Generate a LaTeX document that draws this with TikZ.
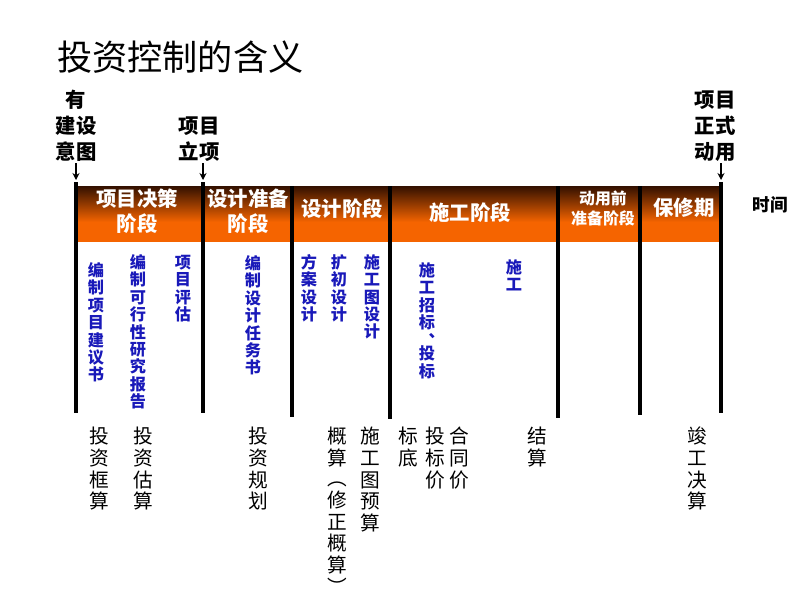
\documentclass[tikz,border=0pt]{standalone}
\usepackage{fontspec}
\setmainfont{Noto Sans CJK SC}
\usetikzlibrary{arrows.meta}
\definecolor{barDark}{RGB}{50,16,0}
\definecolor{barOrange}{RGB}{245,100,0}
\definecolor{taskBlue}{RGB}{25,25,185}
\begin{document}
\begin{tikzpicture}[x=0.025cm,y=-0.025cm,>=Stealth,
  event/.style={font=\bfseries\fontsize{14.5}{18.5}\selectfont,align=center,inner sep=1pt},
  phase/.style={text=white,font=\bfseries\fontsize{14.5}{17.8}\selectfont,align=center},
  task/.style={text=taskBlue,font=\bfseries\fontsize{11.5}{12.4}\selectfont,align=center,anchor=north,inner sep=0pt},
  cost/.style={font=\fontsize{14}{15.4}\selectfont,align=center,anchor=north,inner sep=0pt},
  divider/.style={line width=2.2pt},
  pointer/.style={->,line width=1pt,>={Stealth[length=5pt,width=5pt]}}]
\useasboundingbox (0,0) rectangle (800,600);
\node[font=\fontsize{25}{30}\selectfont,anchor=west,inner sep=0pt] (title) at (57,57) {投资控制的含义};

% events on the time line
\node[event] (intent) at (76,126) {有\\建设\\意图};
\node[event] (approval) at (199,139) {项目\\立项};
\node[event] (operation) at (715,126) {项目\\正式\\动用};
\coordinate (t_0) at (76,180);
\coordinate (t_1) at (203,180);
\coordinate (t_2) at (721,180);
\draw[pointer] (intent.south -| t_0) -- (t_0);
\draw[pointer] (approval.south -| t_1) -- (t_1);
\draw[pointer] (operation.south -| t_2) -- (t_2);

% phase bar
\shade[top color=barDark,bottom color=barOrange] (76,186) rectangle (721,222);
\fill[barOrange] (76,222) rectangle (721,242);
\foreach \x/\top/\bot in {76/182/413,203/182/413,292/186/417,390/186/419,558/186/418,640/186/415,721/182/413}
  \draw[divider] (\x,\top) -- (\x,\bot);

\node[phase] (decision) at (137,211) {项目决策\\阶段};
\node[phase] (prep) at (248,211) {设计准备\\阶段};
\node[phase] (design) at (342,209) {设计阶段};
\node[phase] (build) at (470,213) {施工阶段};
\node[phase,font=\bfseries\fontsize{11.3}{14.2}\selectfont] (handover) at (603,208) {动用前\\准备阶段};
\node[phase] (warranty) at (684,208) {保修期};
\node[font=\bfseries\fontsize{12.5}{15}\selectfont] (time) at (770,205) {时间};

% work in each phase
\node[task] (proposal) at (96,262) {编\\制\\项\\目\\建\\议\\书};
\node[task] (feasibility) at (138,254) {编\\制\\可\\行\\性\\研\\究\\报\\告};
\node[task] (appraisal) at (183,255) {项\\目\\评\\估};
\node[task] (brief) at (253,255) {编\\制\\设\\计\\任\\务\\书};
\node[task] (scheme) at (309,254) {方\\案\\设\\计};
\node[task] (prelim) at (339,254) {扩\\初\\设\\计};
\node[task] (drawings) at (372,254) {施\\工\\图\\设\\计};
\node[task] (tender) at (427,262) {施\\工\\招\\标\\[-6pt]\hspace*{1.2em}、\\[3.5pt]投\\标};
\node[task] (works) at (514,259) {施\\工};

% cost at each stage
\node[cost] (c_0) at (99,427) {投\\资\\框\\算};
\node[cost] (c_1) at (143,427) {投\\资\\估\\算};
\node[cost] (c_2) at (258,427) {投\\资\\规\\划};
\node[cost] (c_3) at (337,427) {概\\算};
\node[cost] (c_3r) at (337,482) {︵\\修\\正\\概\\算\\︶};
\node[cost] (c_4) at (370,427) {施\\工\\图\\预\\算};
\node[cost] (c_5) at (408,427) {标\\底};
\node[cost] (c_6) at (435,427) {投\\标\\价};
\node[cost] (c_7) at (459,427) {合\\同\\价};
\node[cost] (c_8) at (537,427) {结\\算};
\node[cost] (c_9) at (697,427) {竣\\工\\决\\算};
\end{tikzpicture}
\end{document}
